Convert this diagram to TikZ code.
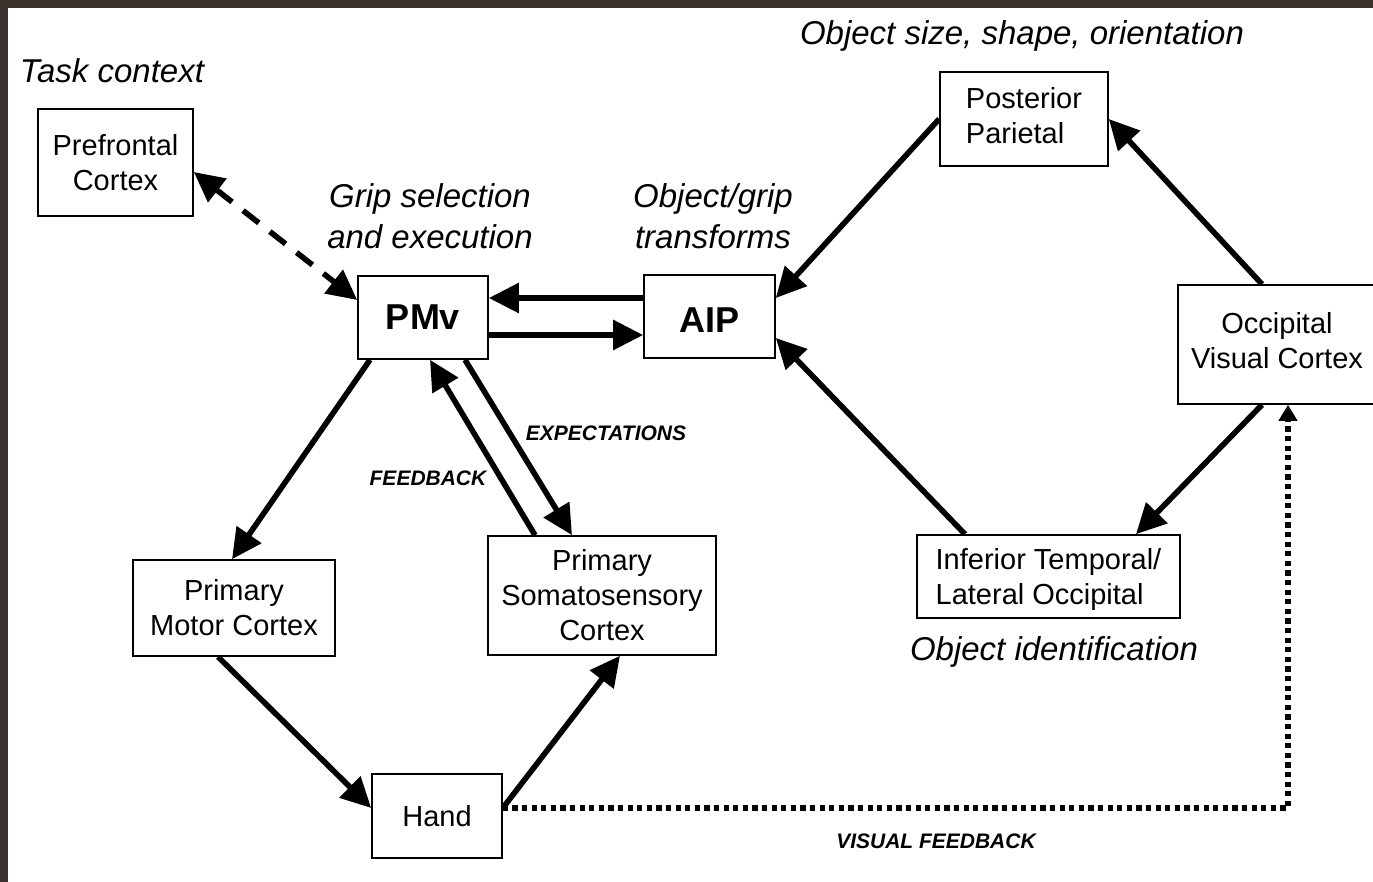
\documentclass[tikz,border=0pt]{standalone}
\usepackage{fontspec}
\setmainfont{Liberation Sans}
\usetikzlibrary{arrows.meta}
\definecolor{framecol}{RGB}{58,48,44}
\tikzset{
 box/.style={draw,line width=0.8pt,align=center,inner sep=0pt,font=\fontsize{14.5}{17.5}\selectfont},
 bigbox/.style={box,font=\fontsize{18}{20}\selectfont\bfseries},
 lbl/.style={inner sep=0pt,align=center,font=\fontsize{16.5}{20.5}\selectfont\itshape},
 tag/.style={inner sep=0pt,font=\fontsize{10.5}{12}\selectfont\bfseries\itshape},
 arr/.style={line width=2.8pt,-{Triangle[length=15pt,width=14.5pt]}},
 dasharr/.style={line width=2.8pt,dash pattern=on 10pt off 7pt,{Triangle[length=15pt,width=14.5pt]}-{Triangle[length=15pt,width=14.5pt]}},
 dotarr/.style={line width=3pt,dash pattern=on 2.6pt off 2.2pt,-{Triangle[length=8pt,width=9pt]}}
}
\begin{document}
\begin{tikzpicture}[x=0.5pt,y=-0.5pt]
 \fill[framecol](0,0) rectangle (1373,882);
 \fill[white](8,8) rectangle (1373,882);
 \useasboundingbox (0,0) rectangle (1373,882);

 % boxes
 \node[box,minimum width=77.5pt,minimum height=53.5pt](pf) at (115.5,162.5) {Prefrontal\\Cortex};
 \node[bigbox,minimum width=65pt,minimum height=41.5pt](pmv) at (423,317.5) {PMv};
 \node[bigbox,text height=16pt,minimum width=65.5pt,minimum height=41.5pt](aip) at (709.5,316.5) {AIP};
 \node[box,align=left,text depth=4pt,minimum width=84pt,minimum height=47pt](pp) at (1024,119) {Posterior\\Parietal};
 \node[box,text depth=4pt,minimum width=99pt,minimum height=59.5pt](occ) at (1277,344.5) {Occipital\\Visual Cortex};
 \node[box,align=left,text depth=0pt,minimum width=131.5pt,minimum height=41.5pt](it) at (1048.5,576.5) {Inferior Temporal/\\Lateral Occipital};
 \node[box,minimum width=101pt,minimum height=48pt](mc) at (234,608) {Primary\\Motor Cortex};
 \node[box,minimum width=114pt,minimum height=59.5pt](sc) at (602,595.5) {Primary\\Somatosensory\\Cortex};
 \node[box,minimum width=65pt,minimum height=42pt](hand) at (437,816) {Hand};

 % labels
 \node[lbl](task) at (112,71) {Task context};
 \node[lbl](grip) at (430,216) {Grip selection\\and execution};
 \node[lbl](trans) at (713,216) {Object/grip\\transforms};
 \node[lbl](osize) at (1022,36) {Object size, shape, orientation};
 \node[lbl](oid) at (1054,652) {Object identification};
 \node[tag](expect) at (606,433) {EXPECTATIONS};
 \node[tag](fback) at (428,478) {FEEDBACK};
 \node[tag](vfback) at (936,841) {VISUAL FEEDBACK};

 % connections
 \draw[dasharr] ([yshift=-4.75pt]pf.east) -- ([yshift=8.75pt]pmv.west);
 \draw[arr] ([yshift=9.25pt]aip.west) -- ([yshift=9.25pt]aip.west -| pmv.east);
 \draw[arr] ([yshift=-8.75pt]pmv.east) -- ([yshift=-8.75pt]pmv.east -| aip.west);
 \draw[arr] ([xshift=-26.5pt]pmv.south) -- ([xshift=-1pt]mc.north);
 \draw[arr] ([xshift=21pt]pmv.south) -- ([xshift=-15pt]sc.north);
 \draw[arr] ([xshift=-33.5pt]sc.north) -- ([xshift=3.5pt]pmv.south);
 \draw[arr] ([xshift=-8pt]mc.south) -- ([yshift=4pt]hand.west);
 \draw[arr] ([yshift=4pt]hand.east) -- ([xshift=9pt]sc.south);
 \draw[dotarr] ([yshift=4pt]hand.east) -| ([xshift=5.5pt]occ.south);
 \draw[arr] (pp.west) -- ([yshift=9.25pt]aip.east);
 \draw[arr] ([xshift=-7.5pt]occ.north) -- (pp.east);
 \draw[arr] ([xshift=-7.5pt]occ.south) -- ([xshift=43.75pt]it.north);
 \draw[arr] ([xshift=-41.75pt]it.north) -- ([yshift=-10.75pt]aip.east);
\end{tikzpicture}
\end{document}
